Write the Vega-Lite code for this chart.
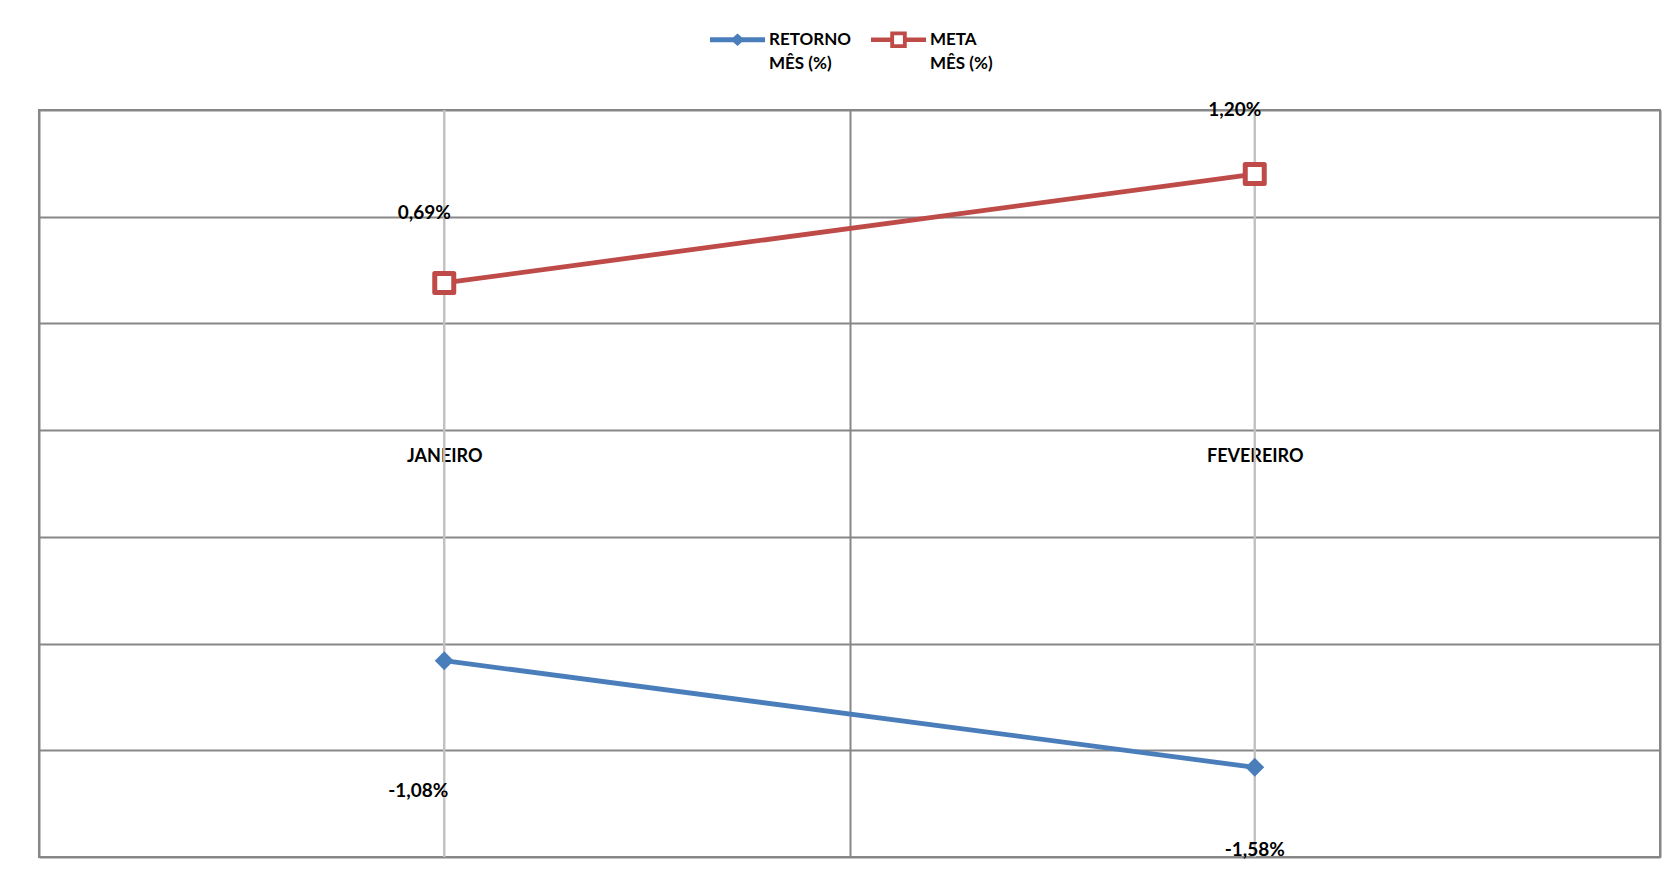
{
  "$schema": "https://vega.github.io/schema/vega-lite/v6.json",
  "width": 1621,
  "height": 747,
  "autosize": {"type": "none"},
  "padding": {"left": 39, "top": 110, "right": 17, "bottom": 24},
  "background": "white",
  "config": {
    "view": {"stroke": "#878787", "strokeWidth": 2},
    "font": "Lato",
    "locale": {"number": {"decimal": ",", "thousands": ".", "grouping": [3], "currency": ["R$", ""], "minus": "-"}}
  },
  "data": {
    "values": [
      {"mes": "JANEIRO", "serie": "RETORNO MÊS (%)", "valor": -0.0108},
      {"mes": "FEVEREIRO", "serie": "RETORNO MÊS (%)", "valor": -0.0158},
      {"mes": "JANEIRO", "serie": "META MÊS  (%)", "valor": 0.0069},
      {"mes": "FEVEREIRO", "serie": "META MÊS  (%)", "valor": 0.012}
    ]
  },
  "encoding": {
    "x": {
      "field": "mes",
      "type": "nominal",
      "sort": ["JANEIRO", "FEVEREIRO"],
      "scale": {"paddingInner": 0, "paddingOuter": 0},
      "axis": {
        "title": null,
        "orient": "bottom",
        "offset": -426,
        "domain": false,
        "ticks": false,
        "labelPadding": 16,
        "labelFont": "Lato",
        "labelFontSize": 18,
        "labelFontWeight": "bold",
        "labelColor": "black",
        "labelAngle": 0,
        "grid": true,
        "tickBand": "extent",
        "gridColor": "#878787",
        "gridWidth": 2
      }
    }
  },
  "layer": [
    {
      "mark": {"type": "rule", "color": "#c0c0c0", "strokeWidth": 2},
      "encoding": {}
    },
    {
      "mark": {"type": "line", "strokeWidth": 4.8},
      "encoding": {
        "y": {
          "field": "valor",
          "type": "quantitative",
          "scale": {"domain": [-0.02, 0.015], "nice": false, "zero": false},
          "axis": {
            "title": null,
            "labels": false,
            "ticks": false,
            "domain": false,
            "grid": true,
            "values": [-0.02, -0.015, -0.01, -0.005, 0, 0.005, 0.01, 0.015],
            "gridColor": "#878787",
            "gridWidth": 2
          }
        },
        "color": {
          "field": "serie",
          "type": "nominal",
          "scale": {"domain": ["RETORNO MÊS (%)", "META MÊS  (%)"], "range": ["#4a7ebb", "#be4b48"]},
          "legend": {
            "orient": "none",
            "legendX": 671,
            "legendY": -98,
            "direction": "horizontal",
            "title": null,
            "symbolSize": 3025,
            "symbolType": "M-1,-0.09L1,-0.09L1,0.09L-1,0.09Z",
            "labelFont": "Lato",
            "labelFontSize": 17,
            "labelFontWeight": "bold",
            "labelColor": "black",
            "labelOffset": 4,
            "columnPadding": 19,
            "labelLimit": 300,
            "labelBaseline": "top",
            "labelExpr": "datum.label === 'RETORNO MÊS (%)' ? ['RETORNO', 'MÊS (%)'] : ['META', 'MÊS  (%)']",
            "encode": {
              "symbols": {
                "update": {
                  "shape": {"signal": "datum.value === 'RETORNO MÊS (%)' ? 'M-1,-0.09L-0.154,-0.09L0,-0.23L0.154,-0.09L1,-0.09L1,0.09L0.154,0.09L0,0.23L-0.154,0.09L-1,0.09Z' : 'M-1,-0.082L-0.3,-0.082L-0.3,-0.3L0.3,-0.3L0.3,-0.082L1,-0.082L1,0.082L0.3,0.082L0.3,0.3L-0.3,0.3L-0.3,0.082L-1,0.082ZM-0.16,-0.16L-0.16,0.16L0.16,0.16L0.16,-0.16Z'"},
                  "fill": {"signal": "datum.value === 'RETORNO MÊS (%)' ? '#4a7ebb' : '#be4b48'"},
                  "stroke": {"value": "transparent"},
                  "strokeWidth": {"value": 0},
                  "opacity": {"value": 1},
                  "fillOpacity": {"value": 1}
                }
              },
              "labels": {
                "update": {
                  "lineHeight": {"value": 24},
                  "dy": {"value": -8}
                }
              }
            }
          }
        }
      }
    },
    {
      "transform": [{"filter": "datum.serie === 'RETORNO MÊS (%)'"}],
      "mark": {"type": "point", "shape": "diamond", "filled": true, "size": 361, "color": "#4a7ebb", "strokeWidth": 0, "opacity": 1},
      "encoding": {"y": {"field": "valor", "type": "quantitative"}}
    },
    {
      "transform": [{"filter": "datum.serie === 'META MÊS  (%)'"}],
      "mark": {"type": "point", "shape": "square", "size": 361, "fill": "white", "stroke": "#be4b48", "strokeWidth": 5, "strokeJoin": "round", "opacity": 1, "fillOpacity": 1},
      "encoding": {"y": {"field": "valor", "type": "quantitative"}}
    },
    {
      "transform": [{"filter": "datum.serie === 'META MÊS  (%)' && datum.mes === 'JANEIRO'"}],
      "mark": {"type": "text", "font": "Lato", "fontSize": 19, "fontWeight": "bold", "color": "black", "dx": -20, "dy": -70, "baseline": "middle", "align": "center"},
      "encoding": {
        "y": {"field": "valor", "type": "quantitative"},
        "text": {"field": "valor", "type": "quantitative", "format": ".2%"}
      }
    },
    {
      "transform": [{"filter": "datum.serie === 'META MÊS  (%)' && datum.mes === 'FEVEREIRO'"}],
      "mark": {"type": "text", "font": "Lato", "fontSize": 19, "fontWeight": "bold", "color": "black", "dx": -20, "dy": -64, "baseline": "middle", "align": "center"},
      "encoding": {
        "y": {"field": "valor", "type": "quantitative"},
        "text": {"field": "valor", "type": "quantitative", "format": ".2%"}
      }
    },
    {
      "transform": [{"filter": "datum.serie === 'RETORNO MÊS (%)' && datum.mes === 'JANEIRO'"}],
      "mark": {"type": "text", "font": "Lato", "fontSize": 19, "fontWeight": "bold", "color": "black", "dx": -26, "dy": 130, "baseline": "middle", "align": "center"},
      "encoding": {
        "y": {"field": "valor", "type": "quantitative"},
        "text": {"field": "valor", "type": "quantitative", "format": ".2%"}
      }
    },
    {
      "transform": [{"filter": "datum.serie === 'RETORNO MÊS (%)' && datum.mes === 'FEVEREIRO'"}],
      "mark": {"type": "text", "font": "Lato", "fontSize": 19, "fontWeight": "bold", "color": "black", "dx": 0, "dy": 83, "baseline": "middle", "align": "center"},
      "encoding": {
        "y": {"field": "valor", "type": "quantitative"},
        "text": {"field": "valor", "type": "quantitative", "format": ".2%"}
      }
    }
  ]
}
